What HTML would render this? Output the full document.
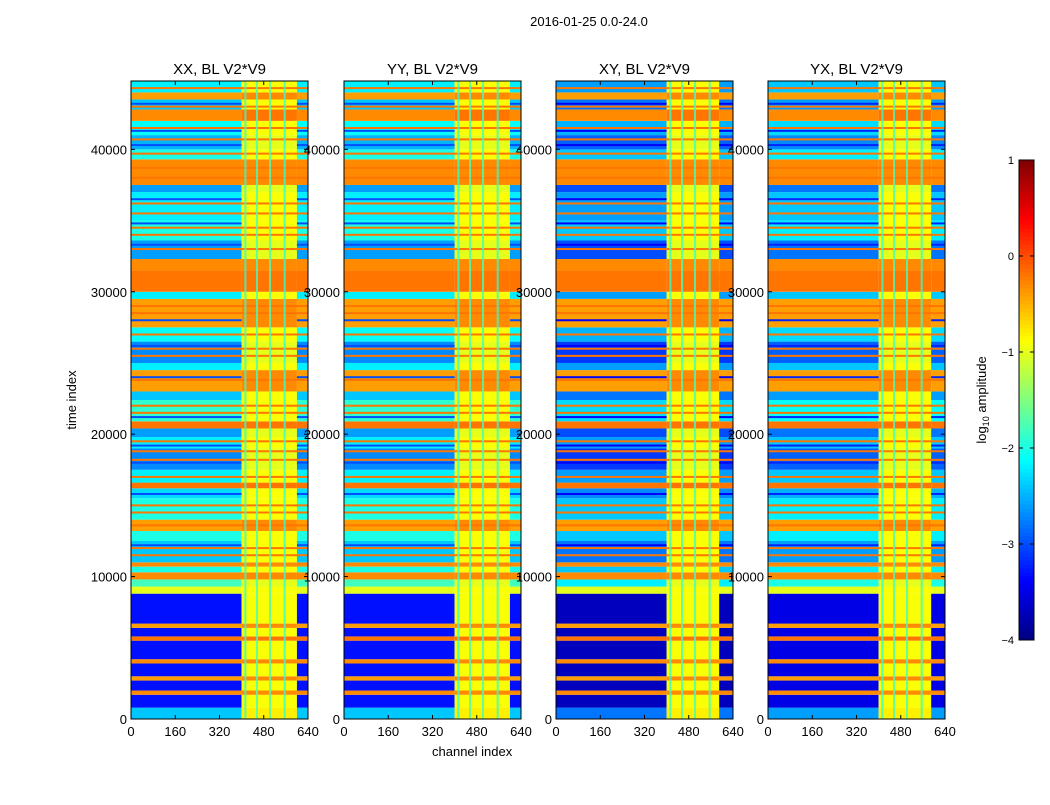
<!DOCTYPE html>
<html><head><meta charset="utf-8">
<style>
body{margin:0;background:#fff;font-family:"Liberation Sans",sans-serif;}
svg text{font-family:"Liberation Sans",sans-serif;}
</style></head>
<body>
<svg id="fig" width="1050" height="800" xmlns="http://www.w3.org/2000/svg">
<rect width="1050" height="800" fill="#fff"/>
<text x="589" y="26" font-size="13" text-anchor="middle">2016-01-25 0.0-24.0</text>
<g id="panels"></g>
<g id="cbar"></g>
<text x="432" y="756" font-size="13">channel index</text>
<text transform="translate(76,400) rotate(-90)" font-size="13" text-anchor="middle">time index</text>
<text transform="translate(986,400) rotate(-90)" font-size="13" text-anchor="middle">log<tspan font-size="9" dy="3">10</tspan><tspan dy="-3"> amplitude</tspan></text>
</svg>
<script>
// ---- data ----
const panelTitles = ["XX, BL V2*V9","YY, BL V2*V9","XY, BL V2*V9","YX, BL V2*V9"];
const panelOffset = [0, 0, -0.4, -0.2];
const midEnd = [600, 600, 590, 590];
const xTicks = [0,160,320,480,640];
const yTicks = [0,10000,20000,30000,40000];
const cbTicks = [1,0,-1,-2,-3,-4];
// time bands: start time, log amplitude in low channels, log amplitude in mid channels
const bandStart = [0,800,1700,2000,2700,3000,3900,4200,5500,5800,6400,6700,8800,9300,9800,10300,10700,11000,12500,13200,14000,15500,16200,16600,17500,19000,19800,20400,20900,22400,23000,24500,25000,26500,27500,29500,30000,31500,32300,33600,35000,37000,37500,39300,40000,41000,42000,42800,43500,44000];
const bandLow   = [-2.4,-3.3,-0.3,-3.3,-0.4,-3.3,-0.3,-3.3,-0.2,-3.3,-0.4,-3.3,-1.0,-1.8,-0.3,-2.0,-0.3,-2.4,-2.0,-0.4,-2.0,-2.3,-0.2,-2.2,-2.7,-2.2,-2.6,-0.2,-1.9,-2.4,-0.4,-2.2,-2.7,-2.1,-0.4,-2.2,-0.2,-0.3,-2.6,-2.0,-2.2,-2.6,-0.3,-2.0,-2.5,-2.1,-0.3,-2.4,-0.4,-2.2];
const bandMid   = [-0.8,-0.9,-0.3,-0.9,-0.3,-0.9,-0.3,-0.9,-0.2,-0.9,-0.3,-0.9,-0.9,-1.0,-0.3,-0.9,-0.3,-0.9,-0.9,-0.3,-0.9,-0.9,-0.2,-0.9,-1.0,-0.9,-1.0,-0.2,-0.9,-0.9,-0.3,-0.9,-1.0,-0.9,-0.3,-0.9,-0.2,-0.3,-1.0,-0.9,-0.9,-1.0,-0.3,-0.9,-1.0,-0.9,-0.2,-0.9,-0.3,-0.9];
// thin horizontal lines (time index)
const orangeLines = [11500,12000,13600,14500,15000,17000,18200,18800,19500,21500,22000,23800,25500,26000,27000,28500,29000,31000,33000,34000,34500,35500,36200,38000,38700,39700,40700,41500,43000,44300];
const blueLines = [12200,15800,18000,19200,21200,24000,26200,28000,33300,34800,36500,40300,41300,43200];
// vertical stripe channels in mid region
const stripeCh = [410,452,499,552];
const stripeVal = [-1.9,-1.8,-1.8,-1.9];
// ---- rendering ----
const NS="http://www.w3.org/2000/svg";
const PX=[131,344,556,768], PW=177, PY0=81, PY1=719;
const tMax=44800;
function jet(v){let t=Math.max(0,Math.min(1,(v+4)/5));
 const f=x=>Math.max(0,Math.min(1,1.5-Math.abs(4*t-x)));
 return `rgb(${Math.round(255*f(3))},${Math.round(255*f(2))},${Math.round(255*f(1))})`;}
function el(tag,a,p){const e=document.createElementNS(NS,tag);for(const k in a)e.setAttribute(k,a[k]);p.appendChild(e);return e;}
const yScale=t=>PY1-(t/tMax)*(PY1-PY0);
const panels=document.getElementById('panels');
panelTitles.forEach((title,pi)=>{
 const x0=PX[pi]; const xs=c=>x0+c/640*PW;
 const g=el('g',{},panels);
 
 
 bandStart.forEach((s,i)=>{
  const e=i+1<bandStart.length?bandStart[i+1]:tMax;
  const y1=yScale(e),y2=yScale(s);
  const lo=bandLow[i]+(bandLow[i]<-1.5?panelOffset[pi]:0), mi=bandMid[i];
  let r=el('rect',{x:xs(0),y:y1,width:xs(400)-xs(0),height:y2-y1,fill:jet(lo)},g);
  
  
  r=el('rect',{x:xs(400),y:y1,width:xs(midEnd[pi])-xs(400),height:y2-y1,fill:jet(mi)},g);
  
  
  r=el('rect',{x:xs(midEnd[pi]),y:y1,width:xs(640)-xs(midEnd[pi]),height:y2-y1,fill:jet(lo)},g);
  
  
 });
 orangeLines.forEach(t=>{
  const r=el('rect',{x:x0,y:yScale(t)-1,width:PW,height:2,fill:jet(-0.2)},g);
  
  
 });
 blueLines.forEach(t=>{
  const r1=el('rect',{x:xs(0),y:yScale(t)-1,width:xs(400)-xs(0),height:2,fill:jet(-3.0+panelOffset[pi])},g);
  
  
  const r2=el('rect',{x:xs(midEnd[pi]),y:yScale(t)-1,width:xs(640)-xs(midEnd[pi]),height:2,fill:jet(-3.0+panelOffset[pi])},g);
  
  
 });
 stripeCh.forEach((c,i)=>{
  if(c>=midEnd[pi])return;
  const r=el('rect',{x:xs(c),y:PY0,width:2,height:PY1-PY0,fill:jet(stripeVal[i]),opacity:0.8},g);
  
  
 });
 el('rect',{x:x0,y:PY0,width:PW,height:PY1-PY0,fill:'none',stroke:'#000','stroke-width':1},g);
 const tt=el('text',{x:x0+PW/2,y:PY0-7,'font-size':15,'text-anchor':'middle'},g);
 tt.textContent=title;
 
 
 xTicks.forEach(v=>{const x=xs(v);
  el('line',{x1:x,x2:x,y1:PY1,y2:PY1-4,stroke:'#000'},g);
  el('line',{x1:x,x2:x,y1:PY0,y2:PY0+4,stroke:'#000'},g);
  const t=el('text',{x:x,y:PY1+17,'font-size':13,'text-anchor':'middle'},g);t.textContent=v;
  
  });
 yTicks.forEach(v=>{const y=yScale(v);
  el('line',{x1:x0,x2:x0+4,y1:y,y2:y,stroke:'#000'},g);
  el('line',{x1:x0+PW,x2:x0+PW-4,y1:y,y2:y,stroke:'#000'},g);
  const t=el('text',{x:x0-4,y:y+5,'font-size':13,'text-anchor':'end'},g);t.textContent=v;
  
  });
});
// colorbar
const cb=document.getElementById('cbar');
const CX=1019,CW=15,CY0=160,CY1=640;
for(let i=0;i<120;i++){const v=-4+5*i/120;
 const y=CY1-(i+1)*(CY1-CY0)/120;
 el('rect',{x:CX,y:y,width:CW,height:(CY1-CY0)/120+0.5,fill:jet(v+5/240)},cb);}
el('rect',{x:CX,y:CY0,width:CW,height:CY1-CY0,fill:'none',stroke:'#000'},cb);
cbTicks.forEach(v=>{const y=CY1-(v+4)/5*(CY1-CY0);
 el('line',{x1:CX,x2:CX+4,y1:y,y2:y,stroke:'#000'},cb);
 el('line',{x1:CX+CW,x2:CX+CW-4,y1:y,y2:y,stroke:'#000'},cb);
 const t=el('text',{x:CX-5,y:y+4,'font-size':11,'text-anchor':'end'},cb);
 t.textContent=v<0?'\u2212'+(-v):v;
 
 });
</script>
</body></html>
